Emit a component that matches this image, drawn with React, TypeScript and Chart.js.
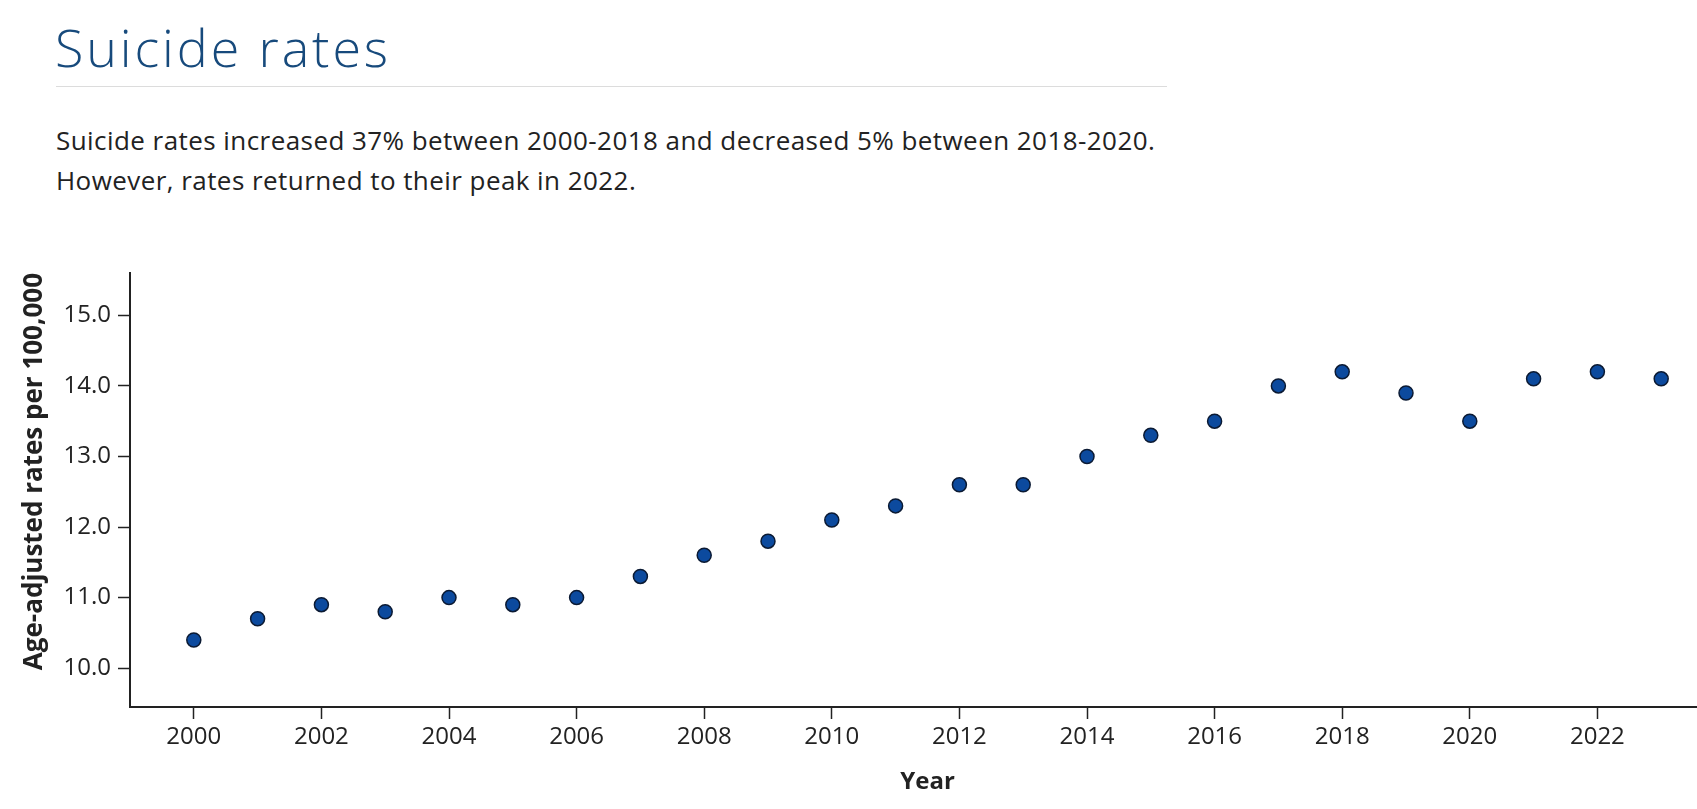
import React, { useEffect, useRef } from "react";
import { Chart, registerables } from "chart.js";

Chart.register(...registerables);

const years = [
  2000, 2001, 2002, 2003, 2004, 2005, 2006, 2007, 2008, 2009, 2010, 2011,
  2012, 2013, 2014, 2015, 2016, 2017, 2018, 2019, 2020, 2021, 2022, 2023,
];
const rates = [
  10.4, 10.7, 10.9, 10.8, 11.0, 10.9, 11.0, 11.3, 11.6, 11.8, 12.1, 12.3,
  12.6, 12.6, 13.0, 13.3, 13.5, 14.0, 14.2, 13.9, 13.5, 14.1, 14.2, 14.1,
];
const titleText = "Suicide rates";
const subtitleLines = [
  "Suicide rates increased 37% between 2000-2018 and decreased 5% between 2018-2020.",
  "However, rates returned to their peak in 2022.",
];
const xAxisTitle = "Year";
const yAxisTitle = "Age-adjusted rates per 100,000";
const xRange = [1999, 2024];
const yRange = [9.45, 15.6];
const lastXTick = 2022;

const FONT = "'Open Sans', 'Noto Sans', sans-serif";

export default function App() {
  const ref = useRef<HTMLCanvasElement>(null);

  useEffect(() => {
    if (!ref.current) return;
    const chart = new Chart(ref.current, {
      type: "scatter",
      data: {
        datasets: [
          {
            data: years.map((y, i) => ({ x: y, y: rates[i] })),
            backgroundColor: "#0c4a9e",
            borderColor: "#0b1a33",
            borderWidth: 1.5,
            pointRadius: 7,
            pointHoverRadius: 7,
          },
        ],
      },
      options: {
        animation: false,
        responsive: false,
        devicePixelRatio: 1,
        layout: { padding: { top: 33, right: 15, bottom: 0, left: 0 } },
        plugins: {
          legend: { display: false },
          tooltip: { enabled: false },
        },
        scales: {
          x: {
            type: "linear",
            min: xRange[0],
            max: xRange[1],
            afterFit: (s: any) => {
              s.height = 102;
            },
            afterBuildTicks: (s: any) => {
              s.ticks = s.ticks.filter((t: any) => t.value <= lastXTick);
            },
            ticks: {
              stepSize: 2,
              includeBounds: false,
              autoSkip: false,
              maxRotation: 0,
              padding: 4,
              color: "#222",
              font: { family: FONT, size: 24 },
              callback: (v: any) => String(v),
            },
            grid: {
              drawOnChartArea: false,
              drawTicks: true,
              tickLength: 12,
              tickColor: "#222",
              tickWidth: 1.5,
            },
            border: { display: true, color: "#222", width: 2 },
            title: {
              display: true,
              text: xAxisTitle,
              color: "#222",
              font: { family: FONT, size: 24, weight: "bold" },
              padding: { top: 0, bottom: 12 },
            },
          },
          y: {
            type: "linear",
            min: yRange[0],
            max: yRange[1],
            afterFit: (s: any) => {
              s.width = 130;
            },
            ticks: {
              stepSize: 1,
              includeBounds: false,
              padding: 7,
              color: "#222",
              font: { family: FONT, size: 24 },
              callback: (v: any) => Number(v).toFixed(1),
            },
            grid: {
              drawOnChartArea: false,
              drawTicks: true,
              tickLength: 12,
              tickColor: "#222",
              tickWidth: 1.5,
            },
            border: { display: true, color: "#222", width: 2 },
            title: {
              display: true,
              text: yAxisTitle,
              align: "end",
              color: "#222",
              font: { family: FONT, size: 26, weight: "bold" },
              padding: { top: 19, bottom: 0 },
            },
          },
        },
      },
    });
    return () => chart.destroy();
  }, []);

  return (
    <div
      style={{
        position: "fixed",
        inset: 0,
        overflow: "hidden",
        background: "#fff",
      }}
    >
      <div
        style={{
          position: "absolute",
          left: 55,
          top: 20.5,
          fontFamily: FONT,
          fontWeight: 300,
          fontSize: 52,
          lineHeight: "52px",
          color: "#174a7c",
          whiteSpace: "nowrap",
          letterSpacing: 2.9,
        }}
      >
        {titleText}
      </div>
      <div
        style={{
          position: "absolute",
          left: 56,
          top: 86,
          width: 1111,
          height: 1,
          background: "#dcdcdc",
        }}
      />
      <div
        style={{
          position: "absolute",
          left: 56,
          top: 120,
          fontFamily: FONT,
          fontSize: 26,
          lineHeight: "40px",
          letterSpacing: 0.44,
          color: "#222",
          whiteSpace: "nowrap",
        }}
      >
        {subtitleLines.map((l, i) => (
          <div key={i}>{l}</div>
        ))}
      </div>
      <canvas
        ref={ref}
        width={1740}
        height={569}
        style={{ position: "absolute", left: 0, top: 240, width: 1740, height: 569 }}
      />
    </div>
  );
}
